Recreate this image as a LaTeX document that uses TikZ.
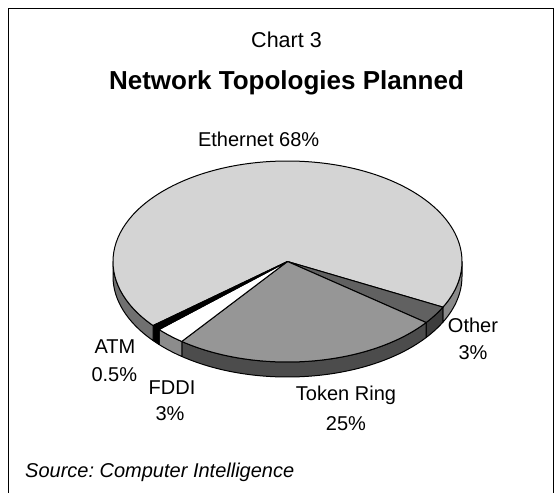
\documentclass[tikz,border=0pt]{standalone}
\usepackage{fontspec}
\setmainfont{Liberation Sans}
\frenchspacing
\begin{document}
\begin{tikzpicture}[x=1pt,y=-1pt,
  lbl/.style={font=\fontsize{20}{20}\selectfont, inner sep=0pt, anchor=base},
  edge/.style={draw=black, line width=1pt, line join=round}]
\useasboundingbox (0,0) rectangle (560,493);
\fill[white] (0,0) rectangle (560,493);
% frame
\draw[line width=1pt] (8.5,494) -- (8.5,8.5) -- (553.5,8.5) -- (553.5,494);
% pie geometry
\def\cx{287.5}\def\cy{261.5}\def\rx{174.5}\def\ry{100.5}\def\dep{15}
\newcommand{\pieside}[3]{%
  \path[edge, fill=#3] ({\cx+\rx*cos(#1)},{\cy+\ry*sin(#1)})
    arc[start angle=#1, end angle=#2, x radius=\rx, y radius=\ry]
    -- ++(0,\dep)
    arc[start angle=#2, end angle=#1, x radius=\rx, y radius=\ry] -- cycle;}
\newcommand{\pietop}[3]{%
  \path[edge, fill=#3] (\cx,\cy) -- ({\cx+\rx*cos(#1)},{\cy+\ry*sin(#1)})
    arc[start angle=#1, end angle=#2, x radius=\rx, y radius=\ry] -- cycle;}
% sides
\pieside{0}{27}{black!46}
\pieside{27}{37.4}{black!76}
\pieside{37.4}{127.3}{black!70}
\pieside{127.3}{137.4}{black!45}
\pieside{137.4}{140.4}{black}
\pieside{140.4}{180}{black!56}
% tops
\pietop{140.4}{387}{black!17}
\pietop{27}{37.4}{black!62}
\pietop{37.4}{127.3}{black!41}
\pietop{127.3}{137.4}{white}
\pietop{137.4}{140.4}{black}
\coordinate (apex) at (\cx,\cy);
% titles
\node[lbl, font=\fontsize{21.5}{21.5}\selectfont] (chart) at (286.5,47.3) {Chart 3};
\node[lbl, font=\fontsize{26}{26}\selectfont\bfseries] (title) at (286.5,89.3) {Network Topologies Planned};
% labels
\node[lbl] (eth) at (258.6,146.7) {Ethernet 68\%};
\node[lbl] (atm1) at (115,353.3) {ATM};
\node[lbl] (atm2) at (114.3,381.7) {0.5\%};
\node[lbl] (fddi1) at (172,394) {FDDI};
\node[lbl] (fddi2) at (170,420) {3\%};
\node[lbl] (tr1) at (346,400) {Token Ring};
\node[lbl] (tr2) at (346,430) {25\%};
\node[lbl] (oth1) at (473,332.3) {Other};
\node[lbl] (oth2) at (473,359.3) {3\%};
\node[lbl, anchor=base west, font=\fontsize{20}{20}\selectfont\itshape] (src) at (25,477) {Source: Computer Intelligence};
\end{tikzpicture}
\end{document}
